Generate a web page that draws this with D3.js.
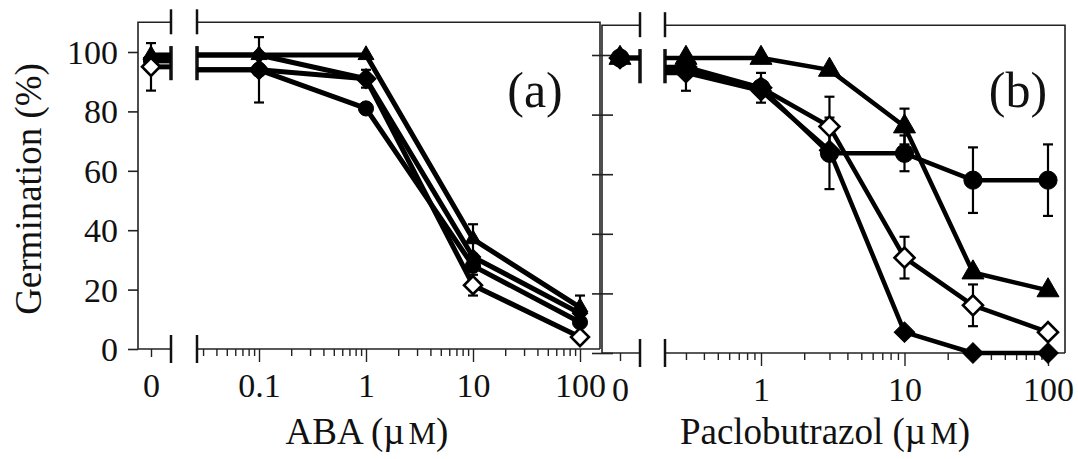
<!DOCTYPE html>
<html>
<head>
<meta charset="utf-8">
<script src="https://cdn.jsdelivr.net/npm/d3@7"></script>
<style>
  body { margin: 0; background: #fff; }
  text { font-family: "Liberation Serif", "Times New Roman", serif; fill: #111; }
</style>
</head>
<body>
<svg id="chart" width="1078" height="459"></svg>
<script>
// (a) ABA dose response, 0 = control
var abaDose = [0, 0.1, 1, 10, 100];
var abaTriangle = [99, 99, 99, 37, 14];
var abaTriangleErr = [0, 0, 0, 5, 4];
var abaDiamond = [98, 99, 91, 31, 12];
var abaDiamondErr = [0, 0, 3, 0, 0];
var abaCircle = [97, 94, 81, 28, 9];
var abaCircleErr = [0, 11, 0, 0, 0];
var abaOpen = [95, 94, 91, 21.5, 4];
var abaOpenErr = [8, 0, 0, 3.5, 0];

// (b) paclobutrazol dose response
var pacDose = [0, 0.3, 1, 3, 10, 30, 100];
var pacTriangle = [99, 99, 99, 95, 76, 27, 21];
var pacTriangleErr = [0, 0, 0, 0, 6, 0, 0];
var pacCircle = [99, 95, 89, 67, 67, 58, 58];
var pacCircleErr = [0, 0, 5, 12, 6, 11, 12];
var pacOpen = [99, 96, 89, 76, 32, 16, 7];
var pacOpenErr = [0, 0, 0, 10, 7, 7, 0];
var pacDiamond = [99, 94, 88, 68, 7, 0, 0];
var pacDiamondErr = [0, 6, 0, 0, 0, 0, 0];

var yTicks = [0, 20, 40, 60, 80, 100];
var abaTicks = [0.1, 1, 10, 100];
var abaTickLabels = ['0.1', '1', '10', '100'];
var pacTicks = [1, 10, 100];
var pacTickLabels = ['1', '10', '100'];

var svg = d3.select('#chart');

var panels = [
  {
    dose: abaDose,
    series: [
      { kind: 'open', v: abaOpen, e: abaOpenErr },
      { kind: 'circle', v: abaCircle, e: abaCircleErr },
      { kind: 'diamond', v: abaDiamond, e: abaDiamondErr },
      { kind: 'triangle', v: abaTriangle, e: abaTriangleErr }
    ],
    x: d3.scaleLog().domain([0.1, 100]).range([259, 580]),
    y: d3.scaleLinear().domain([0, 100]).range([349, 52]),
    xZero: 151, left: 138, right: 600, brk: [171, 197],
    minorFrom: 0.03, majors: abaTicks, majorLabels: abaTickLabels,
    sizes: { triangle: 110, circle: 180, diamond: 120, open: 160 },
    lineW: 5, zeroOpenOnTop: true, yLabels: true,
    tag: '(a)', tagX: 535, title: 'ABA', titleX: 367
  },
  {
    dose: pacDose,
    series: [
      { kind: 'open', v: pacOpen, e: pacOpenErr },
      { kind: 'circle', v: pacCircle, e: pacCircleErr },
      { kind: 'diamond', v: pacDiamond, e: pacDiamondErr },
      { kind: 'triangle', v: pacTriangle, e: pacTriangleErr }
    ],
    x: d3.scaleLog().domain([1, 100]).range([761, 1048]),
    y: d3.scaleLinear().domain([0, 100]).range([353, 55]),
    xZero: 620, left: 602, right: 1065, brk: [640, 665],
    minorFrom: 0.3, majors: pacTicks, majorLabels: pacTickLabels,
    sizes: { triangle: 210, circle: 260, diamond: 210, open: 200 },
    lineW: 4.5, zeroOpenOnTop: false, yLabels: false,
    tag: '(b)', tagX: 1018, title: 'Paclobutrazol', titleX: 825
  }
];

var symbolTypes = {
  triangle: d3.symbolTriangle, circle: d3.symbolCircle,
  diamond: d3.symbolSquare, open: d3.symbolSquare
};

panels.forEach(function (p) {
  var g = svg.append('g');
  var x = p.x, y = p.y;
  var y0 = y(0), yTop = y(110);
  function px(d) { return d === 0 ? p.xZero : x(d); }

  // frame: top border and right border, broken at the axis break
  var frame = g.append('g').attr('stroke', '#222').attr('stroke-width', 1.6).attr('fill', 'none');
  frame.append('path').attr('d', 'M' + p.left + ',' + y0 + 'V' + yTop + 'H' + p.brk[0]);
  frame.append('path').attr('d', 'M' + p.brk[1] + ',' + yTop + 'H' + p.right + 'V' + y0);
  frame.append('path').attr('d', 'M' + p.left + ',' + y0 + 'H' + p.brk[0]);
  frame.append('path').attr('d', 'M' + p.brk[1] + ',' + y0 + 'H' + p.right);

  // y axis
  var yAxis = d3.axisLeft(y).tickValues(yTicks).tickSize(10).tickPadding(10);
  if (!p.yLabels) yAxis.tickFormat('');
  var ya = g.append('g').attr('transform', 'translate(' + p.left + ',0)').call(yAxis);
  ya.select('.domain').remove();
  ya.selectAll('line').attr('stroke', '#222').attr('stroke-width', 1.6);
  if (!p.yLabels) ya.selectAll('line').attr('x1', 11);
  ya.selectAll('text').attr('font-size', 34).attr('dy', '0.34em')
    .style('font-family', '"Liberation Serif", serif').attr('fill', '#111');

  // log x axis with minor ticks
  var tickVals = [];
  [0.01, 0.1, 1, 10].forEach(function (dec) {
    for (var k = 1; k <= 9; k++) {
      var v = +(dec * k).toPrecision(3);
      if (v >= p.minorFrom - 1e-9 && v <= 100 + 1e-9) tickVals.push(v);
    }
  });
  tickVals.push(100);
  tickVals = Array.from(new Set(tickVals));
  var majorIdx = function (d) { return p.majors.indexOf(d); };
  var xAxis = d3.axisBottom(x).tickValues(tickVals).tickSize(7)
    .tickFormat(function (d) { var i = majorIdx(d); return i >= 0 ? p.majorLabels[i] : ''; });
  var xa = g.append('g').attr('transform', 'translate(0,' + y0 + ')').call(xAxis);
  xa.select('.domain').remove();
  xa.selectAll('line').attr('stroke', '#222').attr('stroke-width', 1.4)
    .attr('y2', function (d) { return majorIdx(d) >= 0 ? 13 : 7; });
  xa.selectAll('text').attr('y', 48).attr('dy', 0).attr('font-size', 34)
    .style('font-family', '"Liberation Serif", serif').attr('fill', '#111');

  // zero (control) position on the x axis
  var zeroScale = d3.scaleLinear().domain([0, 1]).range([p.xZero, p.xZero + 50]);
  var za = g.append('g').attr('transform', 'translate(0,' + y0 + ')')
    .call(d3.axisBottom(zeroScale).tickValues([0]).tickSize(8).tickFormat(d3.format('d')));
  za.select('.domain').remove();
  za.selectAll('line').attr('stroke', '#222').attr('stroke-width', 1.4);
  za.selectAll('text').attr('y', 48).attr('dy', 0).attr('font-size', 34)
    .style('font-family', '"Liberation Serif", serif').attr('fill', '#111');

  // break marks on the axes and on the data lines
  var brk = g.append('g').attr('stroke', '#111').attr('fill', 'none');
  p.brk.forEach(function (bx) {
    brk.append('line').attr('x1', bx).attr('x2', bx).attr('y1', yTop - 13).attr('y2', yTop + 12).attr('stroke-width', 2.5);
    brk.append('line').attr('x1', bx).attr('x2', bx).attr('y1', y0 - 14).attr('y2', y0 + 14).attr('stroke-width', 2.5);
    brk.append('line').attr('x1', bx).attr('x2', bx).attr('y1', y(102)).attr('y2', y(90.5)).attr('stroke-width', 3.5);
  });

  // series lines
  var line = d3.line().x(function (d) { return d[0]; }).y(function (d) { return y(d[1]); });
  var lines = g.append('g').attr('fill', 'none').attr('stroke', '#000')
    .attr('stroke-width', p.lineW).attr('stroke-linejoin', 'round');
  p.series.forEach(function (s) {
    lines.append('path').attr('d', line([[p.xZero, s.v[0]], [p.brk[0], s.v[0]]]));
    var pts = [[p.brk[1], s.v[1]]];
    p.dose.forEach(function (d, i) { if (d > 0) pts.push([x(d), s.v[i]]); });
    lines.append('path').attr('d', line(pts));
  });

  // error bars
  var errs = g.append('g').attr('stroke', '#000').attr('stroke-width', 2.2);
  p.series.forEach(function (s) {
    p.dose.forEach(function (d, i) {
      if (!s.e[i]) return;
      var cx = px(d), lo = y(s.v[i] - s.e[i]), hi = y(s.v[i] + s.e[i]);
      errs.append('line').attr('x1', cx).attr('x2', cx).attr('y1', lo).attr('y2', hi);
      errs.append('line').attr('x1', cx - 5).attr('x2', cx + 5).attr('y1', lo).attr('y2', lo);
      errs.append('line').attr('x1', cx - 5).attr('x2', cx + 5).attr('y1', hi).attr('y2', hi);
    });
  });

  // markers
  function drawMarkers(layer, s, idxs) {
    var sym = d3.symbol().type(symbolTypes[s.kind]).size(p.sizes[s.kind]);
    layer.selectAll(null).data(idxs).enter().append('path')
      .attr('d', sym)
      .attr('transform', function (i) {
        return 'translate(' + px(p.dose[i]) + ',' + y(s.v[i]) + ')' +
          (s.kind === 'diamond' || s.kind === 'open' ? ' rotate(45)' : '');
      })
      .attr('fill', s.kind === 'open' ? '#fff' : '#000')
      .attr('stroke', '#000')
      .attr('stroke-width', s.kind === 'open' ? 2.6 : 1);
  }
  var logIdx = d3.range(1, p.dose.length);
  var mk = g.append('g');
  p.series.forEach(function (s) { drawMarkers(mk, s, logIdx); });
  var zeroOrder = p.zeroOpenOnTop ? p.series.slice(1).concat([p.series[0]]) : p.series;
  zeroOrder.forEach(function (s) { drawMarkers(mk, s, [0]); });

  // panel tag
  g.append('text').attr('x', p.tagX).attr('y', 107).attr('text-anchor', 'middle')
    .attr('font-size', 50).text(p.tag);

  // x axis title
  var t = g.append('text').attr('x', p.titleX).attr('y', 444).attr('text-anchor', 'middle')
    .attr('font-size', 37);
  t.append('tspan').text(p.title + ' (\u00b5');
  t.append('tspan').attr('dx', 4).attr('font-size', 31).text('M');
  t.append('tspan').text(')');
});

// y axis title
svg.append('text')
  .attr('transform', 'translate(41,189) rotate(-90)')
  .attr('text-anchor', 'middle')
  .attr('font-size', 37)
  .text('Germination (%)');
</script>
</body>
</html>
